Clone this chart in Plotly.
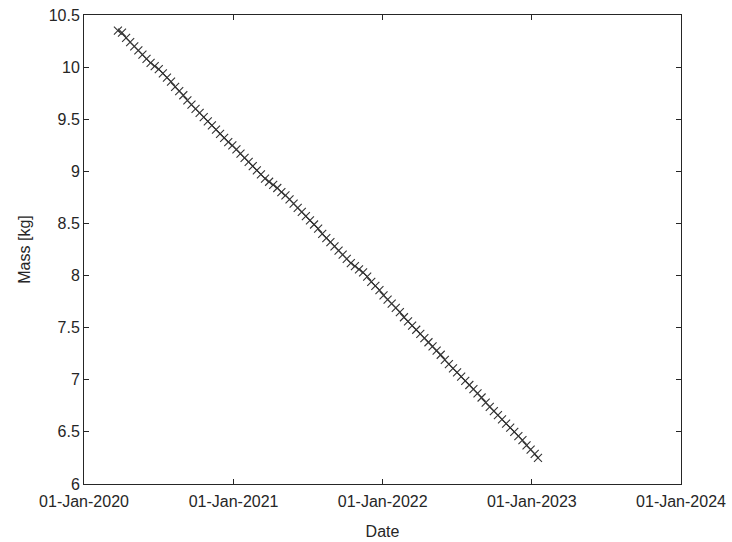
import plotly.graph_objects as go

dates = [
    "2020-03-24", "2020-04-03", "2020-04-13", "2020-04-23", "2020-05-03", "2020-05-13",
    "2020-05-23", "2020-06-02", "2020-06-12", "2020-06-22", "2020-07-02", "2020-07-12",
    "2020-07-22", "2020-08-01", "2020-08-11", "2020-08-21", "2020-08-31", "2020-09-10",
    "2020-09-20", "2020-09-30", "2020-10-10", "2020-10-20", "2020-10-30", "2020-11-09",
    "2020-11-19", "2020-11-29", "2020-12-09", "2020-12-19", "2020-12-29",
    "2021-01-08", "2021-01-18", "2021-01-28", "2021-02-07", "2021-02-17", "2021-02-27",
    "2021-03-09", "2021-03-19", "2021-03-29", "2021-04-08", "2021-04-18", "2021-04-28",
    "2021-05-08", "2021-05-18", "2021-05-28", "2021-06-07", "2021-06-17", "2021-06-27",
    "2021-07-07", "2021-07-17", "2021-07-27", "2021-08-06", "2021-08-16", "2021-08-26",
    "2021-09-05", "2021-09-15", "2021-09-25", "2021-10-05", "2021-10-15", "2021-10-25",
    "2021-11-04", "2021-11-14", "2021-11-24", "2021-12-04", "2021-12-14", "2021-12-24",
    "2022-01-03", "2022-01-13", "2022-01-23", "2022-02-02", "2022-02-12", "2022-02-22",
    "2022-03-04", "2022-03-14", "2022-03-24", "2022-04-03", "2022-04-13", "2022-04-23",
    "2022-05-03", "2022-05-13", "2022-05-23", "2022-06-02", "2022-06-12", "2022-06-22",
    "2022-07-02", "2022-07-12", "2022-07-22", "2022-08-01", "2022-08-11", "2022-08-21",
    "2022-08-31", "2022-09-10", "2022-09-20", "2022-09-30", "2022-10-10", "2022-10-20",
    "2022-10-30", "2022-11-09", "2022-11-19", "2022-11-29", "2022-12-09", "2022-12-19",
    "2022-12-29", "2023-01-08", "2023-01-16",
]

mass = [
    10.35, 10.33, 10.28, 10.24, 10.20, 10.16,
    10.12, 10.08, 10.04, 10.01, 9.98, 9.94,
    9.90, 9.86, 9.81, 9.77, 9.73, 9.68,
    9.64, 9.60, 9.56, 9.52, 9.48, 9.44,
    9.40, 9.36, 9.32, 9.28, 9.25,
    9.21, 9.17, 9.13, 9.09, 9.05, 9.01,
    8.97, 8.93, 8.90, 8.87, 8.84, 8.80,
    8.77, 8.73, 8.69, 8.65, 8.61, 8.57,
    8.53, 8.49, 8.45, 8.40, 8.36, 8.32,
    8.28, 8.24, 8.20, 8.16, 8.12, 8.09,
    8.06, 8.03, 7.99, 7.94, 7.90, 7.86,
    7.81, 7.77, 7.73, 7.69, 7.65, 7.60,
    7.56, 7.52, 7.48, 7.44, 7.40, 7.36,
    7.32, 7.28, 7.24, 7.19, 7.15, 7.11,
    7.07, 7.03, 6.99, 6.95, 6.91, 6.87,
    6.83, 6.78, 6.74, 6.70, 6.66, 6.62,
    6.58, 6.54, 6.50, 6.46, 6.42, 6.37,
    6.33, 6.29, 6.25,
]

x_tick_vals = ["2020-01-01", "2021-01-01", "2022-01-01", "2023-01-01", "2024-01-01"]
x_tick_text = ["01-Jan-2020", "01-Jan-2021", "01-Jan-2022", "01-Jan-2023", "01-Jan-2024"]
y_tick_vals = [6, 6.5, 7, 7.5, 8, 8.5, 9, 9.5, 10, 10.5]
y_tick_text = ["6", "6.5", "7", "7.5", "8", "8.5", "9", "9.5", "10", "10.5"]

axis_color = "#262626"
font = dict(family="Liberation Sans, Arial, sans-serif", size=16, color=axis_color)

fig = go.Figure()
fig.add_trace(go.Scatter(
    x=dates, y=mass, mode="lines+markers",
    line=dict(color="black", width=0.8),
    marker=dict(symbol="x-thin", size=8, line=dict(color="#333333", width=1.1)),
    showlegend=False,
))

fig.update_layout(
    width=732, height=542,
    margin=dict(l=84, r=51, t=15, b=58, autoexpand=False),
    paper_bgcolor="white", plot_bgcolor="white",
    font=font,
)
fig.update_xaxes(
    type="date", range=["2020-01-01", "2024-01-01"],
    tickmode="array", tickvals=x_tick_vals, ticktext=x_tick_text,
    showgrid=False, zeroline=False, automargin=False,
    showline=True, linecolor=axis_color, linewidth=1, mirror="ticks",
    ticks="inside", ticklen=5, tickcolor=axis_color, tickwidth=1,
    ticklabelstandoff=3,
    title=dict(text="Date", standoff=16, font=font),
)
fig.update_yaxes(
    range=[6, 10.5],
    tickmode="array", tickvals=y_tick_vals, ticktext=y_tick_text,
    showgrid=False, zeroline=False, automargin=False,
    showline=True, linecolor=axis_color, linewidth=1, mirror="ticks",
    ticks="inside", ticklen=5, tickcolor=axis_color, tickwidth=1,
    title=dict(text="Mass [kg]", standoff=14, font=font),
)

fig.write_html(
    "out.html",
    config={"displayModeBar": False},
    post_script="document.body.style.margin='0';document.body.style.overflow='hidden';",
)
